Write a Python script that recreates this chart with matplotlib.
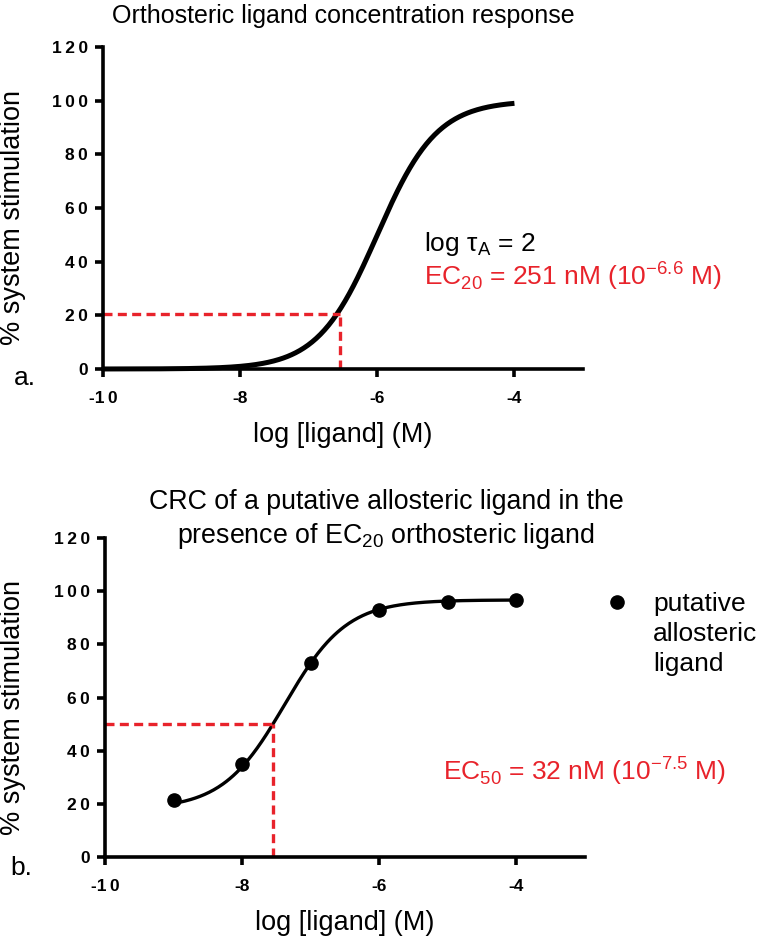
import numpy as np
import matplotlib.pyplot as plt

plt.rcParams["font.family"] = ["Liberation Sans", "DejaVu Sans"]
plt.rcParams["mathtext.fontset"] = "custom"
plt.rcParams["mathtext.rm"] = "Liberation Sans"

# panel a: operational model fit (orthosteric ligand)
orth_bottom = 0.0
orth_top = 100.0
orth_log_ec50 = -6.0
orth_hill = 1.0
orth_x_range = [-10, -4]
ec20_log = -6.55
ec20_level = 20.5

# panel b: allosteric ligand CRC
allo_log_conc = [-9, -8, -7, -6, -5, -4]
allo_response = [21.5, 35.0, 73.0, 93.0, 96.0, 96.5]
allo_bottom = 18.0
allo_top = 96.7
allo_log_ec50 = -7.38
allo_hill = 0.96
ec50_log = -7.55
ec50_level = 50.0

x_ticks = [-10, -8, -6, -4]
y_ticks = [0, 20, 40, 60, 80, 100, 120]

RED = "#e8232b"
DASH = (0, (2.7, 1.6))


def spaced(v):
    s = "\u2009".join(str(int(v)))
    return s.replace("-\u2009", "-")


def hill_curve(x, bottom, top, log_ec50, hill):
    return bottom + (top - bottom) / (1 + 10 ** (hill * (log_ec50 - x)))


def style_axes(ax, ylab_x):
    ax.set_xlim(-10, -3)
    ax.set_ylim(0, 120)
    ax.spines["top"].set_visible(False)
    ax.spines["right"].set_visible(False)
    ax.spines["left"].set_linewidth(2.6)
    ax.spines["bottom"].set_linewidth(2.6)
    ax.set_xticks(x_ticks)
    ax.set_yticks(y_ticks)
    ax.set_xticklabels([spaced(v) for v in x_ticks], fontweight="bold")
    ax.set_yticklabels([spaced(v) for v in y_ticks], fontweight="bold")
    ax.tick_params(width=2.6, length=6, labelsize=12.5)
    ax.tick_params(axis="x", pad=10)
    ax.tick_params(axis="y", pad=5)
    ax.set_xlabel("log [ligand] (M)", fontsize=19.5, labelpad=11)
    ax.set_ylabel("% system stimulation", fontsize=19.5)
    ax.yaxis.set_label_coords(ylab_x, 0.47)


fig = plt.figure(figsize=(7.6, 9.38), dpi=100)

# ---- panel a
ax1 = fig.add_axes([103 / 760, 1 - 369 / 938, 480 / 760, 322 / 938])
style_axes(ax1, -0.16)
xs = np.linspace(orth_x_range[0], orth_x_range[1], 300)
ax1.plot(xs, hill_curve(xs, orth_bottom, orth_top, orth_log_ec50, orth_hill),
         color="black", lw=3.6, solid_capstyle="butt", clip_on=False)
ax1.plot([-10, ec20_log], [ec20_level, ec20_level], color=RED, lw=2.4, ls=DASH)
ax1.plot([ec20_log, ec20_log], [0, ec20_level], color=RED, lw=2.4, ls=DASH)
ax1.text(-5.32, 46.6, "log \u03c4$_\\mathregular{A}$ = 2", fontsize=19, va="center")
ax1.text(-5.32, 35.0, "EC$_\\mathregular{20}$ = 251 nM (10$^\\mathregular{-6.6}$ M)",
         fontsize=19, color=RED, va="center")
fig.text(343 / 760, 1 - 16 / 938, "Orthosteric ligand concentration response",
         fontsize=18, ha="center", va="center")
fig.text(14 / 760, 1 - 378 / 938, "a.", fontsize=19, ha="left", va="center")

# ---- panel b
ax2 = fig.add_axes([105 / 760, 1 - 857 / 938, 480 / 760, 319 / 938])
style_axes(ax2, -0.165)
xs2 = np.linspace(allo_log_conc[0], allo_log_conc[-1], 300)
ax2.plot(xs2, hill_curve(xs2, allo_bottom, allo_top, allo_log_ec50, allo_hill),
         color="black", lw=2.4)
ax2.plot(allo_log_conc, allo_response, "o", color="black", ms=9.5)
ax2.plot([-10, ec50_log], [ec50_level, ec50_level], color=RED, lw=2.4, ls=DASH)
ax2.plot([ec50_log, ec50_log], [0, ec50_level], color=RED, lw=2.4, ls=DASH)
ax2.text(-5.07, 32.5, "EC$_\\mathregular{50}$ = 32 nM (10$^\\mathregular{-7.5}$ M)",
         fontsize=19, color=RED, va="center")
fig.text(386 / 760, 1 - 520 / 938,
         "CRC of a putative allosteric ligand in the\npresence of EC$_\\mathregular{20}$ orthosteric ligand",
         fontsize=19.3, ha="center", va="center", linespacing=1.25)
fig.text(10 / 760, 1 - 868 / 938, "b.", fontsize=19, ha="left", va="center")

# legend drawn by hand
fig.lines.append(plt.Line2D([617 / 760], [1 - 602 / 938], transform=fig.transFigure,
                            marker="o", color="black", ms=9.5, ls="none"))
fig.text(653 / 760, 1 - 634 / 938, "putative\nallosteric\nligand",
         fontsize=19, ha="left", va="center", linespacing=1.32)

fig.savefig("out.png", dpi=100)
